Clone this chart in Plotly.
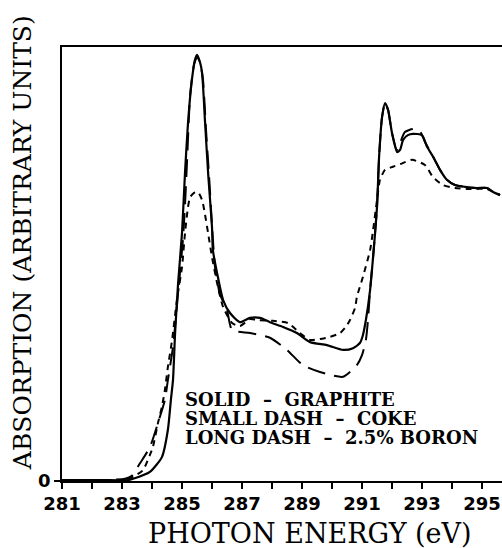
import plotly.graph_objects as go

# Photon energy (eV) and absorption (arbitrary units)
graphite_e = [281.0, 282.27, 283.2, 283.37, 283.93, 284.33, 284.53, 284.63, 284.7, 284.77, 284.87,
              285.0, 285.1, 285.2, 285.33, 285.43, 285.5, 285.6, 285.67, 285.77, 285.87, 286.0,
              286.03, 286.17, 286.37, 286.6, 286.93, 287.27, 287.6, 287.93, 288.37, 288.83,
              289.27, 289.83, 290.37, 290.7, 290.93, 291.03, 291.13, 291.27, 291.37, 291.5,
              291.57, 291.67, 291.77, 291.87, 292.0, 292.17, 292.27, 292.37, 292.53, 292.7,
              293.0, 293.17, 293.37, 293.6, 293.83, 294.1, 294.5, 294.83, 295.17, 295.37, 295.6]
graphite_a = [0.002, 0.002, 0.002, 0.005, 0.021, 0.055, 0.118, 0.187, 0.233, 0.341, 0.456,
              0.571, 0.710, 0.825, 0.924, 0.970, 0.982, 0.965, 0.940, 0.825, 0.710, 0.585,
              0.532, 0.479, 0.417, 0.387, 0.366, 0.376, 0.376, 0.366, 0.355, 0.341,
              0.320, 0.313, 0.302, 0.306, 0.318, 0.336, 0.371, 0.440, 0.516, 0.631,
              0.747, 0.839, 0.871, 0.855, 0.802, 0.758, 0.763, 0.786, 0.797, 0.800,
              0.797, 0.770, 0.747, 0.717, 0.694, 0.682, 0.677, 0.675, 0.675, 0.666, 0.659]

coke_e = [281.0, 282.27, 283.1, 283.43, 283.7, 283.93, 284.03, 284.2, 284.33, 284.43, 284.53,
          284.67, 284.83, 285.0, 285.1, 285.2, 285.27, 285.4, 285.53, 285.67, 285.77, 285.87,
          286.0, 286.17, 286.37, 286.67, 286.93, 287.27, 287.5, 288.03, 288.53, 288.93,
          289.27, 289.6, 289.93, 290.27, 290.5, 290.6, 290.77, 290.83, 291.03, 291.27,
          291.37, 291.5, 291.6, 291.77, 292.03, 292.27, 292.67, 293.1, 293.37, 293.7,
          294.1, 294.5, 294.83, 295.17, 295.37, 295.6]
coke_a = [0.002, 0.002, 0.002, 0.012, 0.025, 0.060, 0.078, 0.134, 0.171, 0.210, 0.263,
          0.325, 0.417, 0.493, 0.571, 0.631, 0.654, 0.664, 0.666, 0.647, 0.613, 0.571,
          0.516, 0.456, 0.401, 0.364, 0.357, 0.373, 0.371, 0.369, 0.364, 0.341,
          0.325, 0.327, 0.332, 0.341, 0.359, 0.371, 0.399, 0.424, 0.470, 0.532,
          0.578, 0.647, 0.694, 0.717, 0.724, 0.730, 0.740, 0.728, 0.700, 0.682,
          0.675, 0.673, 0.673, 0.673, 0.666, 0.659]

boron_e = [281.0, 282.27, 283.1, 283.33, 283.6, 283.93, 284.2, 284.43, 284.53, 284.7, 284.87,
           285.03, 285.1, 285.17, 285.27, 285.4, 285.5, 285.6, 285.7, 285.8, 285.9, 286.0,
           286.1, 286.27, 286.5, 286.67, 287.27, 287.93, 288.5, 289.03, 289.6, 290.37,
           290.83, 291.0, 291.13, 291.2, 291.27, 291.37, 291.5, 291.57, 291.67, 291.77,
           291.87, 292.0, 292.17, 292.27, 292.43, 292.7, 292.93, 293.1, 293.37, 293.6,
           293.83, 294.1, 294.5, 294.83, 295.17, 295.37, 295.6]
boron_a = [0.002, 0.002, 0.005, 0.012, 0.041, 0.078, 0.134, 0.187, 0.233, 0.309, 0.433,
           0.555, 0.636, 0.740, 0.889, 0.959, 0.977, 0.965, 0.924, 0.809, 0.705, 0.590,
           0.493, 0.429, 0.394, 0.348, 0.341, 0.330, 0.302, 0.267, 0.251, 0.240,
           0.267, 0.290, 0.325, 0.371, 0.440, 0.516, 0.631, 0.747, 0.839, 0.871,
           0.855, 0.802, 0.763, 0.779, 0.804, 0.811, 0.806, 0.781, 0.747, 0.717,
           0.694, 0.682, 0.677, 0.675, 0.675, 0.666, 0.659]

x_ticks = list(range(281, 296))
x_tick_text = [str(v) if v % 2 == 1 else "" for v in x_ticks]
legend_lines = ["SOLID  \u2013  GRAPHITE", "SMALL DASH  \u2013  COKE", "LONG DASH  \u2013  2.5% BORON"]

fig = go.Figure()
fig.add_trace(go.Scatter(x=graphite_e, y=graphite_a, mode="lines",
                         line=dict(color="black", width=2.2, shape="spline", smoothing=0.6)))
fig.add_trace(go.Scatter(x=coke_e, y=coke_a, mode="lines",
                         line=dict(color="black", width=2, dash="6px,5px", shape="spline", smoothing=0.6)))
fig.add_trace(go.Scatter(x=boron_e, y=boron_a, mode="lines",
                         line=dict(color="black", width=2, dash="18px,9px", shape="spline", smoothing=0.6)))

legend_font = dict(family="DejaVu Serif", size=18, color="black")
for i, txt in enumerate(legend_lines):
    fig.add_annotation(x=285.03, y=0.187 - i * 0.043, xref="x", yref="y", text="<b>" + txt + "</b>",
                       showarrow=False, xanchor="left", yanchor="middle", font=legend_font)

fig.add_annotation(x=0.5636, y=-0.122, xref="paper", yref="paper", text="PHOTON ENERGY (eV)",
                   showarrow=False, xanchor="center", yanchor="middle",
                   font=dict(family="DejaVu Serif", size=27, color="black"))
fig.add_annotation(x=-0.0909, y=0.548, xref="paper", yref="paper", text="ABSORPTION (ARBITRARY UNITS)",
                   showarrow=False, xanchor="center", yanchor="middle", textangle=-90,
                   font=dict(family="DejaVu Serif", size=25, color="black"))

fig.update_layout(
    width=502, height=548,
    margin=dict(l=62, r=0, t=47, b=67),
    paper_bgcolor="white", plot_bgcolor="white",
    showlegend=False,
    xaxis=dict(range=[281, 295.667], tickvals=x_ticks, ticktext=x_tick_text,
               ticks="outside", ticklen=6, tickwidth=1.5, tickcolor="black",
               showline=True, linecolor="black", linewidth=1.5, mirror=True,
               showgrid=False, zeroline=False,
               tickfont=dict(family="DejaVu Sans", size=18, color="black", weight="bold")),
    yaxis=dict(range=[0, 1], tickvals=[0], ticktext=["0"],
               ticks="outside", ticklen=6, tickwidth=1.5, tickcolor="black",
               showline=True, linecolor="black", linewidth=1.5,
               showgrid=False, zeroline=False,
               tickfont=dict(family="DejaVu Sans", size=18, color="black", weight="bold")),
)

fig.write_html("out.html")
